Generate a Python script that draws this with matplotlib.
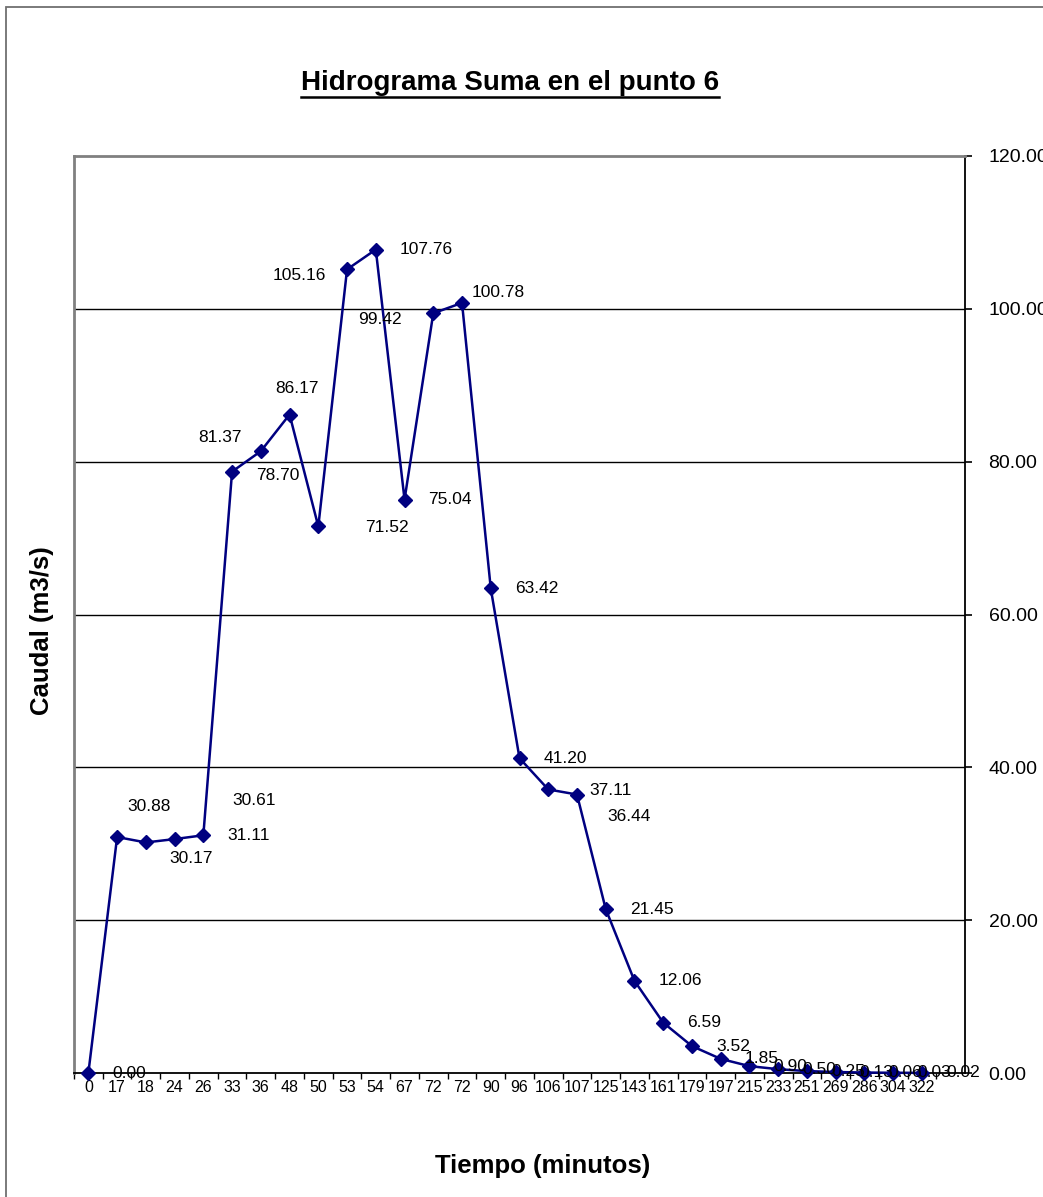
import numpy as np
import matplotlib
matplotlib.use("Agg")
import matplotlib.pyplot as plt
from matplotlib.patches import Rectangle
from matplotlib.lines import Line2D

plt.rcParams['font.family'] = ['Liberation Sans', 'DejaVu Sans']

# Hidrograma suma, punto 6
tiempo = [0, 17, 18, 24, 26, 33, 36, 48, 50, 53, 54, 67, 72, 72, 90, 96, 106, 107,
          125, 143, 161, 179, 197, 215, 233, 251, 269, 286, 304, 322]
caudal = [0.00, 30.88, 30.17, 30.61, 31.11, 78.70, 81.37, 86.17, 71.52, 105.16,
          107.76, 75.04, 99.42, 100.78, 63.42, 41.20, 37.11, 36.44, 21.45, 12.06,
          6.59, 3.52, 1.85, 0.90, 0.50, 0.25, 0.13, 0.06, 0.03, 0.02]

# desplazamiento de cada etiqueta (pixeles, borde izquierdo del texto)
offsets = [(24, 0), (10, 31), (24, -16), (58, 39), (24, 0), (24, -4), (-63, 14),
           (-14, 26), (47, -1), (-74, -6), (24, 0), (24, 0), (-75, -6), (10, 10),
           (24, 0), (24, 0), (41, -1), (30, -22)] + [(24, 0)] * 12

W, H = 1043, 1197
fig = plt.figure(figsize=(W/100, H/100), dpi=100)

# marco exterior del grafico
fig.add_artist(Rectangle((6/W, -0.1), 2.0, (H-7)/H + 0.1, transform=fig.transFigure,
                         fill=False, edgecolor='#707070', lw=1.3, clip_on=False))

ax = fig.add_axes([74/W, 1-1073/H, (965-74)/W, (1073-156)/H])
n = len(tiempo)
xs = np.arange(n)

ax.set_xlim(-0.5, n + 0.5)
ax.set_ylim(0, 120)

for y in range(20, 120, 20):
    ax.axhline(y, color='black', lw=1.0, zorder=1)

ax.plot(xs, caudal, color='#000080', lw=1.8, marker='D', markersize=7,
        markerfacecolor='#000080', markeredgecolor='#000080', zorder=3, clip_on=False)

for i, v in enumerate(caudal):
    dx, dy = offsets[i]
    ax.annotate('%.2f' % v, xy=(i, v), xytext=(dx, dy), textcoords='offset pixels',
                ha='left', va='center', fontsize=12.5, color='black',
                annotation_clip=False, zorder=4)

# eje Y a la derecha
ax.yaxis.tick_right()
ax.set_yticks(range(0, 121, 20))
ax.set_yticklabels(['%.2f' % t for t in range(0, 121, 20)])
ax.tick_params(axis='y', direction='out', length=5, width=1.2, labelsize=14, pad=12,
               color='black')

# eje X por categorias: marcas entre categorias, etiquetas centradas
ax.set_xticks(np.arange(-0.5, n + 0.5, 1.0))
ax.set_xticklabels([])
ax.set_xticks(xs, minor=True)
ax.set_xticklabels([str(t) for t in tiempo], minor=True)
ax.tick_params(axis='x', which='major', direction='out', length=4, width=1.0)
ax.tick_params(axis='x', which='minor', length=0, labelsize=11.5, pad=5)

for s in ['left', 'top']:
    ax.spines[s].set_color('#808080')
    ax.spines[s].set_linewidth(2)
ax.spines['right'].set_color('black')
ax.spines['right'].set_linewidth(1.3)
ax.spines['bottom'].set_color('black')
ax.spines['bottom'].set_linewidth(1.3)

title = fig.text(510/W, 1-83/H, 'Hidrograma Suma en el punto 6', ha='center', va='center',
                 fontsize=20, fontweight='bold')
fig.text(42/W, 1-631/H, 'Caudal (m3/s)', rotation=90, ha='center', va='center',
         fontsize=18.5, fontweight='bold')
fig.text(543/W, 1-1166/H, 'Tiempo (minutos)', ha='center', va='center',
         fontsize=18.5, fontweight='bold')

# subrayado del titulo
fig.canvas.draw()
bb = title.get_window_extent().transformed(fig.transFigure.inverted())
yu = 1-97/H
fig.add_artist(Line2D([bb.x0, bb.x1], [yu, yu], transform=fig.transFigure,
                      color='black', lw=1.8))

fig.savefig('out.png', dpi=100)
